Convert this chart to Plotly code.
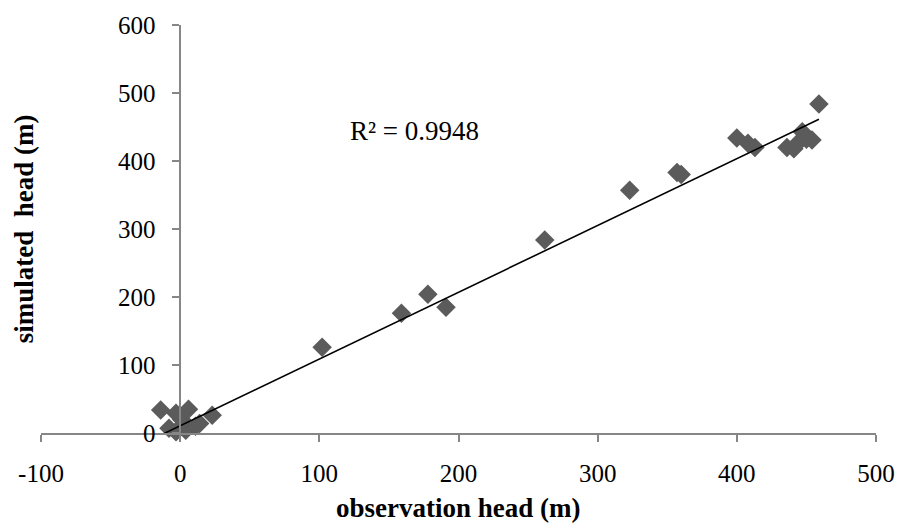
import plotly.graph_objects as go

# Observation vs simulated head (m)
obs_head = [-14, -3, 1, 6, 2, -8, -3, 4, 11, 14, 23,
            102, 159, 178, 191, 262, 323, 357, 360,
            400, 408, 413, 436, 441, 444, 447, 450, 454, 459]
sim_head = [34, 29, 20, 35, 12, 7, 2, 4, 10, 14, 26,
            126, 176, 204, 185, 284, 357, 383, 380,
            434, 426, 420, 420, 418, 427, 443, 432, 431, 484]
# Linear trendline
trend_slope = 0.982
trend_intercept = 10.6
r2_label = "R² = 0.9948"
x_ticks = [-100, 0, 100, 200, 300, 400, 500]
x_tick_text = ["-100", "0", "100", "200", "300", "400", "500"]
y_ticks = [0, 100, 200, 300, 400, 500, 600]

xl = [min(obs_head), max(obs_head)]
yl = [trend_slope * v + trend_intercept for v in xl]

FONT = "Liberation Serif, Times New Roman, serif"
AXC = "#868686"

fig = go.Figure()
fig.add_trace(go.Scatter(
    x=obs_head, y=sim_head, mode="markers",
    marker=dict(symbol="diamond", size=15, color="#5b5b5b", line=dict(width=0)),
    cliponaxis=False, showlegend=False))
fig.add_trace(go.Scatter(
    x=xl, y=yl, mode="lines", line=dict(color="black", width=1.6),
    cliponaxis=False, showlegend=False))

fig.update_layout(
    width=907, height=527,
    margin=dict(l=41, r=27, t=23, b=94),
    paper_bgcolor="white", plot_bgcolor="white",
    font=dict(family=FONT, size=25, color="black"),
    xaxis=dict(range=[-100, 500], tickvals=x_ticks, ticktext=x_tick_text,
               showgrid=False, zeroline=False,
               showline=True, linecolor=AXC, linewidth=1.5,
               ticks="outside", ticklen=7, tickcolor=AXC, tickwidth=1.5,
               ticklabelstandoff=10, tickfont=dict(size=25)),
    yaxis=dict(range=[0, 600], tickvals=y_ticks, showgrid=False, zeroline=False,
               showline=True, linecolor=AXC, linewidth=1.5,
               anchor="free", position=1/6,
               ticks="outside", ticklen=7, tickcolor=AXC, tickwidth=1.5,
               ticklabelstandoff=12, tickfont=dict(size=25)),
    annotations=[
        dict(text="<b>observation head (m)</b>", xref="paper", yref="paper",
             x=0.5, y=-0.183, showarrow=False, font=dict(size=27),
             xanchor="center", yanchor="middle"),
        dict(text="<b>simulated\u00a0 head (m)</b>", xref="paper", yref="paper",
             x=-0.020, y=0.5, showarrow=False, font=dict(size=27), textangle=-90,
             xanchor="center", yanchor="middle"),
        dict(text=r2_label, xref="paper", yref="paper",
             x=(416 - 41) / 839, y=(433 - 130) / 410, showarrow=False,
             font=dict(size=27), xanchor="center", yanchor="middle"),
    ],
)

fig.write_html("out.html")
